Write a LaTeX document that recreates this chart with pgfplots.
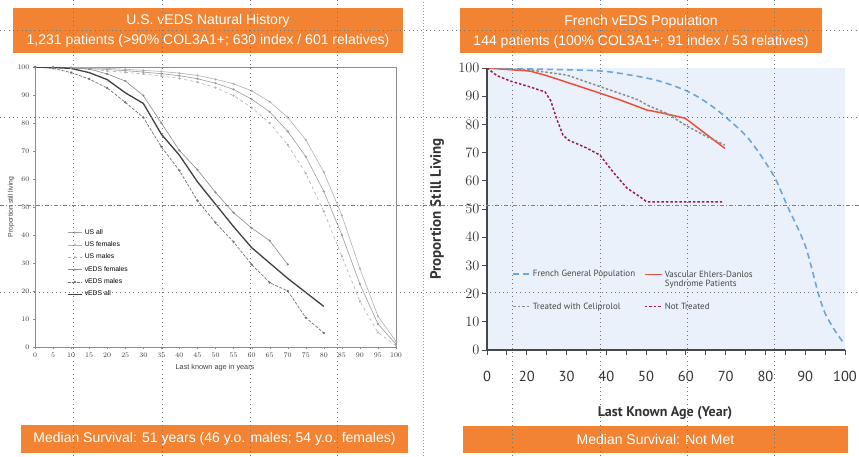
\documentclass[border=0pt]{standalone}
\usepackage{pgfplots}
\pgfplotsset{compat=1.18}
\usepackage{fontspec}
\setmainfont{Liberation Sans}
\newfontfamily\ptsans{PT Sans}
\definecolor{vorange}{RGB}{241,131,51}
\definecolor{bgblue}{RGB}{234,241,251}
\definecolor{fblue}{RGB}{108,166,218}
\definecolor{vred}{RGB}{236,80,60}
\definecolor{maroon}{RGB}{160,28,72}
\definecolor{cgray}{RGB}{140,140,140}
\begin{document}
\begin{tikzpicture}[x=1pt,y=1pt]
\fill[white] (0,0) rectangle (859,456);
\path[use as bounding box] (0,0) rectangle (859,456);

% ---------- LEFT PANEL ----------
\begin{axis}[at={(35pt,109pt)}, anchor=south west, scale only axis,
  width=361pt, height=280pt,
  xmin=0, xmax=100, ymin=0, ymax=100,
  xtick={0,5,...,100}, ytick={0,10,...,100},
  tick label style={font=\fontsize{7.3}{8}\selectfont, text=black!75},
  axis line style={black!45},
  tick style={black!45},
  major tick length=2pt, tick align=outside,
  xtick pos=bottom, ytick pos=left,
  legend style={at={(0.088,0.428)}, anchor=north west, draw=none, fill=none,
    font=\fontsize{6.8}{7.5}\selectfont, row sep=1.9pt, inner sep=0pt},
  legend cell align=left,
  legend image post style={xscale=0.85},
]
\addplot[black!38, line width=0.6pt, mark=*, mark size=0.8pt] coordinates {
(0,100)(5,99.9)(10,99.7)(15,99.5)(20,99.1)(25,98.7)(30,98.2)(35,97.6)(40,96.9)(45,95.8)(50,94.2)(55,92)(60,88.5)(65,84)(70,77)(75,68)(80,55.6)(85,40)(90,22.5)(95,8.2)(100,1)};
\addlegendentry{US all}
\addplot[black!30, line width=0.6pt, mark=*, mark size=0.8pt] coordinates {
(0,100)(5,99.9)(10,99.8)(15,99.7)(20,99.5)(25,99.2)(30,98.8)(35,98.4)(40,97.8)(45,97)(50,95.6)(55,94)(60,91.5)(65,87.6)(70,82)(75,74)(80,62.5)(85,47)(90,28)(95,11)(100,2)};
\addlegendentry{US females}
\addplot[black!30, line width=0.6pt, dashed, mark=*, mark size=0.8pt, mark options={solid}] coordinates {
(0,100)(5,99.8)(10,99.6)(15,99.2)(20,98.6)(25,98.1)(30,97.5)(35,96.8)(40,95.9)(45,94.6)(50,92.6)(55,89.8)(60,85.5)(65,80)(70,72.2)(75,62)(80,48.4)(85,32.4)(90,16.3)(95,5.2)(100,0.5)};
\addlegendentry{US males}
\addplot[black!45, line width=0.6pt, mark=*, mark size=0.8pt] coordinates {
(0,100)(5,100)(10,99.7)(15,99.3)(20,97.5)(25,95)(30,89.8)(35,80)(40,70.2)(45,63.3)(50,55.2)(55,48)(60,42.5)(65,38)(70,29.5)};
\addlegendentry{vEDS females}
\addplot[black!55, line width=0.7pt, dash pattern=on 3pt off 1.5pt, mark=*, mark size=0.8pt, mark options={solid}] coordinates {
(0,100)(5,99.5)(10,98)(15,95.7)(20,92.5)(25,87.4)(30,82)(35,71.5)(40,63)(45,52.3)(50,44.4)(55,37.5)(60,29.5)(65,23)(70,20)(75,10.5)(80,5)};
\addlegendentry{vEDS males}
\addplot[black!75, line width=1.3pt] coordinates {
(0,100)(5,99.8)(10,99.5)(15,98)(20,95.5)(25,90.8)(30,87)(35,76)(40,68.5)(45,59)(50,51)(55,43)(60,35.5)(65,30)(70,24.5)(75,19.5)(80,14.5)};
\addlegendentry{vEDS all}
\end{axis}
\node[font=\fontsize{7.3}{8}\selectfont, text=black!75] at (215,88) {Last known age in years};
\node[font=\fontsize{6.8}{7}\selectfont, text=black!75, rotate=90] at (11,249) {Proportion still living};

% ---------- RIGHT PANEL ----------
\begin{axis}[at={(487pt,106pt)}, anchor=south west, scale only axis,
  width=358pt, height=282pt,
  xmin=10, xmax=100, ymin=0, ymax=100,
  axis background/.style={fill=bgblue},
  axis x line=bottom, axis y line=left,
  axis line style={-, black!72, line width=1.1pt},
  xtick={10,20,...,100}, minor xtick={15,25,...,95},
  xticklabels={0,20,30,40,50,60,70,80,90,100},
  ytick={0,10,...,100},
  tick align=outside, major tick length=5pt, minor tick length=5pt,
  tick style={black!72, line width=0.9pt},
  tick label style={font=\ptsans\fontsize{14.5}{16}\selectfont, text=black!80},
  xticklabel style={yshift=-13pt},
  yticklabel style={xshift=1pt},
  legend columns=2,
  legend cell align=left,
  legend style={at={(axis cs:16.3,29.2)}, anchor=north west, draw=none, fill=none,
    font=\ptsans\fontsize{9}{10.5}\selectfont, inner sep=0pt,
    /tikz/every even column/.append style={column sep=7pt}, row sep=20pt},
]
\addplot[fblue, line width=1.6pt, dash pattern=on 6pt off 4pt, smooth, tension=0.5] coordinates {
(10,100)(23,99.6)(38,99)(46,97.5)(53,95.5)(60,92)(65,88)(70,82.6)(76,74.5)(82,62)(85.4,51.4)(90,37)(93.2,20.5)(95,13)(97.5,6.8)(99.5,2.8)};
\addlegendentry{\textcolor{black!72}{French General Population}}
\addplot[vred, line width=1.5pt] coordinates {
(10,100)(20.8,98.9)(25,97.3)(37.7,91.4)(43.4,88.7)(48.5,86)(50.2,85.1)(54.2,84)(59.8,82.2)(69.8,71.5)};
\addlegendentry{\color{black!72}\begin{tabular}[t]{@{}l@{}}Vascular Ehlers-Danlos\\[-1.5pt]Syndrome Patients\end{tabular}}
\addplot[cgray, line width=1.5pt, dash pattern=on 2.5pt off 2pt] coordinates {
(10,100)(20.8,99.3)(30.1,97.5)(38.4,93.4)(43.4,91)(48,88.7)(50.2,86.9)(55.2,83.9)(59.8,79.8)(65.3,75.6)(69.8,72.7)};
\addlegendentry{\textcolor{black!72}{Treated with Celiprolol}}
\addplot[maroon, line width=1.5pt, dash pattern=on 2.5pt off 2pt] coordinates {
(10,100)(12.5,97.3)(15.8,95.4)(20.8,93.3)(24.6,91.5)(26,88.5)(27.5,82)(29.1,76.2)(30.4,74.5)(35.1,71.6)(38.4,69.1)(41.7,63.1)(45.2,57.4)(48.5,54.3)(50.2,52.5)(69.1,52.5)};
\addlegendentry{\textcolor{black!72}{Not Treated}}
\end{axis}
\node[font=\ptsans\bfseries\fontsize{15}{17}\selectfont, text=black!80, rotate=90] at (437,247) {Proportion Still Living};
\node[font=\ptsans\bfseries\fontsize{14}{16}\selectfont, text=black!80] at (665,43) {Last Known Age (Year)};

% ---------- ORANGE BOXES ----------
\fill[vorange] (13,448) rectangle (403,403);
\node[white, align=center, font=\fontsize{14}{20}\selectfont] at (208,425.5) {U.S. vEDS Natural History\\1,231 patients (>90\% COL3A1+; 630 index / 601 relatives)};
\fill[vorange] (460,448) rectangle (822,403);
\node[white, align=center, font=\fontsize{14}{20}\selectfont] at (641,424.5) {French vEDS Population\\144 patients (100\% COL3A1+; 91 index / 53 relatives)};
\fill[vorange] (21,31) rectangle (408,3);
\node[white, font=\fontsize{14}{16}\selectfont] at (214.5,17) {Median Survival: 51 years (46 y.o. males; 54 y.o. females)};
\fill[vorange] (463,30) rectangle (848,3);
\node[white, font=\fontsize{14}{16}\selectfont] at (655.5,16.5) {Median Survival: Not Met};

% ---------- SLIDE GUIDES ----------
\begin{scope}[line width=0.7pt, black!55, dash pattern=on 0.7pt off 3.6pt]
\foreach \x in {73,162,250,337,512,600,687,774} \draw (\x,0) -- (\x,456);
\foreach \y in {426,339,164} \draw (0,\y) -- (859,\y);
\end{scope}
\draw[black!50, line width=0.5pt, dash pattern=on 4pt off 2pt on 1pt off 2pt] (0,251) -- (859,251);
\draw[black!40, line width=0.6pt, dash pattern=on 1pt off 2pt] (423,0) -- (423,456);
\end{tikzpicture}
\end{document}
